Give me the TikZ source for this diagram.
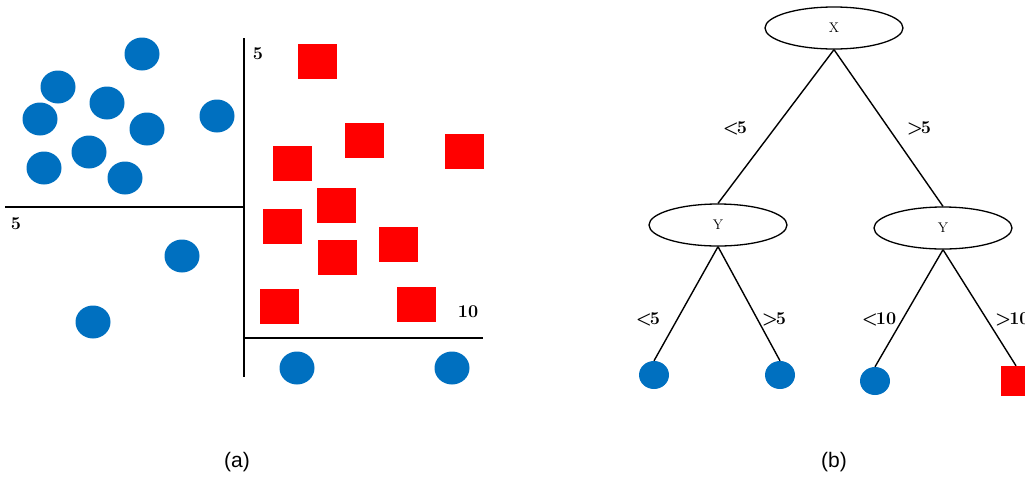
\documentclass[tikz,border=0pt]{standalone}
\usepackage{fontspec}
\newfontfamily\capfont{Liberation Sans}
\usetikzlibrary{shapes.geometric}
\definecolor{dotblue}{HTML}{0070C0}
\definecolor{sqred}{HTML}{FF0000}
\tikzset{
  dot/.style={ellipse, fill=dotblue, draw=none, inner sep=0pt, minimum width=35pt, minimum height=33pt},
  sq/.style={rectangle, fill=sqred, draw=none, inner sep=0pt, minimum width=39pt, minimum height=35pt},
  leafdot/.style={ellipse, fill=dotblue, draw=none, inner sep=0pt, minimum width=30pt, minimum height=28pt},
  leafsq/.style={rectangle, fill=sqred, draw=none, inner sep=0pt, minimum width=30pt, minimum height=30pt},
  axis/.style={line width=1.5pt, black},
  tnode/.style={ellipse, draw, line width=1.3pt, inner sep=0pt, minimum width=138pt, minimum height=42pt, font=\fontsize{14}{16}\selectfont},
  edgeline/.style={line width=1.4pt, black},
  num/.style={font=\fontsize{18}{21}\selectfont\bfseries, inner sep=0pt},
  captext/.style={font=\capfont\fontsize{21}{24}\selectfont, inner sep=0pt}
}
\newcommand{\lt}{<\kern-2pt}
\newcommand{\gt}{>\kern-2pt}
\begin{document}
\begin{tikzpicture}[x=1pt,y=-1pt]
\useasboundingbox (0,0) rectangle (1025,477);
\clip (0,0) rectangle (1025,477);
% ---------- panel (a) ----------
\coordinate (vtop) at (244,38);
\coordinate (vbot) at (244,377);
\coordinate (hleft) at (5,207);
\coordinate (hmid) at (244,207);
\coordinate (lleft) at (244,338);
\coordinate (lright) at (483,338);
\draw[axis] (vtop) -- (vbot);
\draw[axis] (hleft) -- (hmid);
\draw[axis] (lleft) -- (lright);
\node[num] (l5a) at (258,54) {5};
\node[num] (l5b) at (16,224) {5};
\node[num] (l10) at (468,312) {10};
% blue dots
\node[dot] (c1) at (142,54) {};
\node[dot] (c2) at (58,87) {};
\node[dot] (c3) at (107,103) {};
\node[dot] (c4) at (40,119) {};
\node[dot] (c5) at (147,129) {};
\node[dot] (c6) at (217,116) {};
\node[dot] (c7) at (89,152) {};
\node[dot] (c8) at (44,168) {};
\node[dot] (c9) at (125,178) {};
\node[dot] (c10) at (182,256) {};
\node[dot] (c11) at (93,322) {};
\node[dot] (c12) at (297,368) {};
\node[dot] (c13) at (452,368) {};
% red squares
\node[sq] (s1) at (317,61) {};
\node[sq] (s2) at (364,140) {};
\node[sq] (s3) at (464,151) {};
\node[sq] (s4) at (292,163) {};
\node[sq] (s5) at (336,205) {};
\node[sq] (s6) at (282,226) {};
\node[sq] (s7) at (337,257) {};
\node[sq] (s8) at (398,244) {};
\node[sq] (s9) at (279,306) {};
\node[sq] (s10) at (416,304) {};
\node[captext] (capa) at (237,462) {(a)};
% ---------- panel (b) ----------
\node[tnode] (X) at (834,28) {X};
\node[tnode] (YL) at (718,225) {Y};
\node[tnode] (YR) at (943,228) {Y};
\node[leafdot] (d1) at (654,375) {};
\node[leafdot] (d2) at (780,375) {};
\node[leafdot] (d3) at (875,381) {};
\node[leafsq] (q1) at (1016,381) {};
\draw[edgeline] (X.south) -- (YL.north);
\draw[edgeline] (X.south) -- (YR.north);
\draw[edgeline] (YL.south) -- (d1.north);
\draw[edgeline] (YL.south) -- (d2.north);
\draw[edgeline] (YR.south) -- (d3.north);
\draw[edgeline] (YR.south) -- (q1.north);
\node[num] (e1) at (735,128) {\lt5};
\node[num] (e2) at (919,128) {\gt5};
\node[num] (e3) at (648,319) {\lt5};
\node[num] (e4) at (774,319) {\gt5};
\node[num] (e5) at (879,319) {\lt10};
\node[num, anchor=west] (e6) at (995,319) {\gt10};
\node[captext] (capb) at (834,462) {(b)};
\end{tikzpicture}
\end{document}
